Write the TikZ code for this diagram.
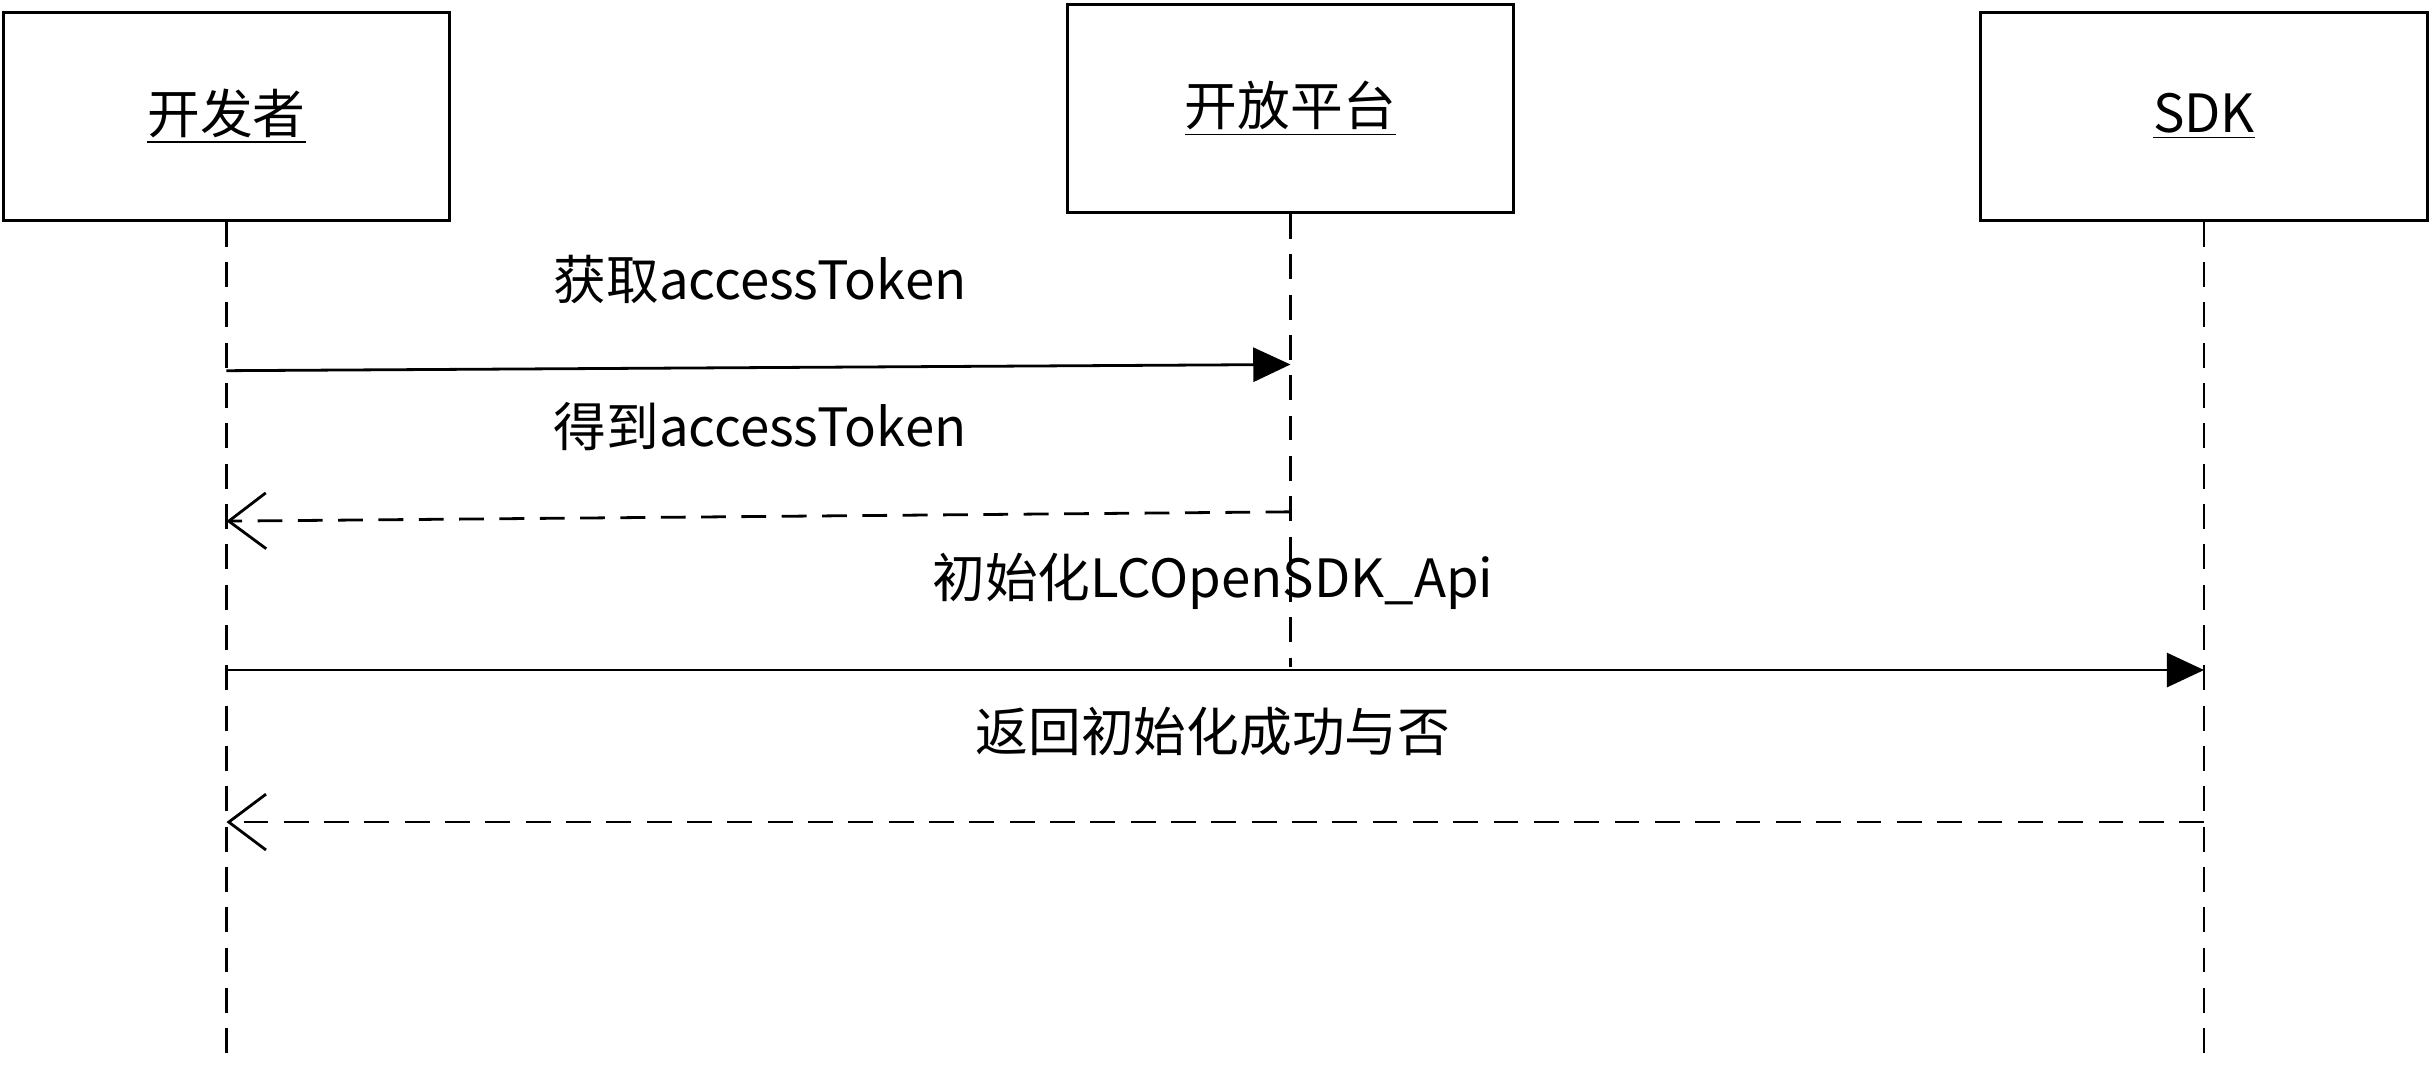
\documentclass[tikz,border=0pt]{standalone}
\usepackage{fontspec}
\setmainfont{Noto Sans CJK SC}
\usetikzlibrary{arrows.meta}
\tikzset{
  actor/.style={draw, line width=1pt, minimum width=144pt, minimum height=67pt, inner sep=0pt, font=\fontsize{17}{20}\selectfont},
  life/.style={line width=0.9pt, dash pattern=on 8pt off 5pt},
  call/.style={line width=0.9pt, -{Triangle[length=12pt,width=11pt]}},
  reply/.style={line width=0.9pt, dash pattern=on 8pt off 5pt, -{Straight Barb[length=12pt,width=18pt,line width=0.9pt]}},
  lbl/.style={font=\fontsize{17}{20}\selectfont, inner sep=0pt}
}
\begin{document}
\begin{tikzpicture}[x=0.5pt,y=-0.5pt]
  \useasboundingbox (0,0) rectangle (1568,690);
  % actors
  \node[actor] (dev) at (146,75) {\underline{开发者}};
  \node[actor] (plat) at (832,70) {\underline{开放平台}};
  \node[actor] (sdk) at (1421,75) {\underline{SDK}};
  % lifelines
  \coordinate (devend) at (146,688);
  \coordinate (platend) at (832,430);
  \coordinate (sdkend) at (1421,688);
  \draw[life] (dev.south) -- (devend);
  \draw[life] (plat.south) -- (platend);
  \draw[life] (sdk.south) -- (sdkend);
  % messages
  \coordinate (m1a) at (146,239); \coordinate (m1b) at (832,235);
  \coordinate (m2a) at (832,330); \coordinate (m2b) at (146,336);
  \coordinate (m3a) at (146,432); \coordinate (m3b) at (1421,432);
  \coordinate (m4a) at (1421,530); \coordinate (m4b) at (146,530);
  \draw[call] (m1a) -- (m1b);
  \draw[reply] (m2a) -- (m2b);
  \draw[call] (m3a) -- (m3b);
  \draw[reply] (m4a) -- (m4b);
  % labels
  \node[lbl] (t1) at (490,180) {获取accessToken};
  \node[lbl] (t2) at (490,275) {得到accessToken};
  \node[lbl] (t3) at (782,375) {初始化LCOpenSDK\_Api};
  \node[lbl] (t4) at (782,472) {返回初始化成功与否};
\end{tikzpicture}
\end{document}
